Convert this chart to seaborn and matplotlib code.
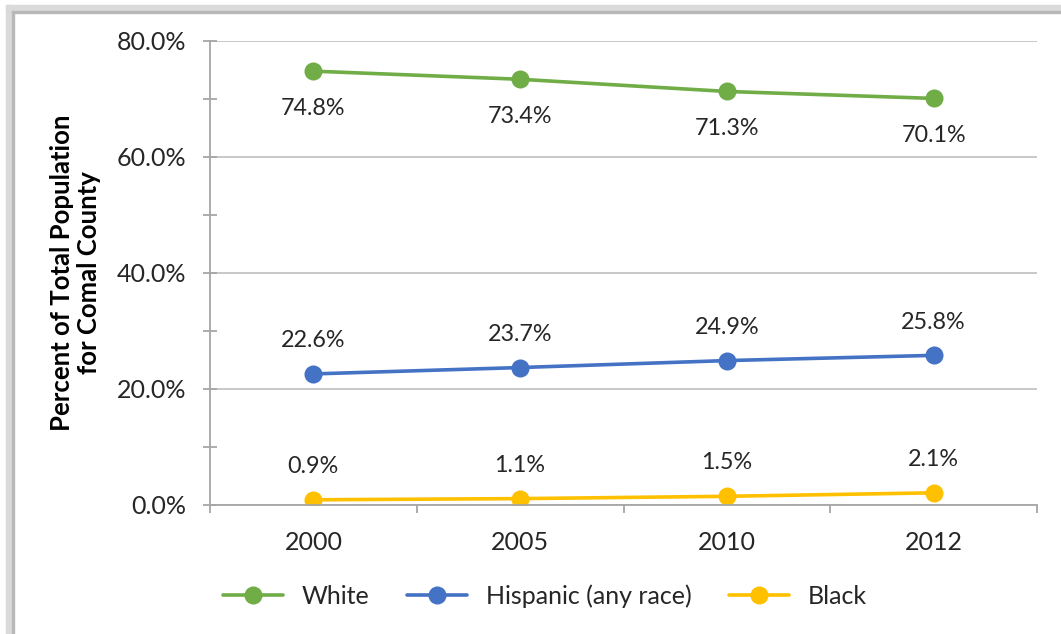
import numpy as np
import pandas as pd
import matplotlib
matplotlib.use("Agg")
import matplotlib.pyplot as plt
from matplotlib.patches import Rectangle
from matplotlib.ticker import MultipleLocator, FuncFormatter
import seaborn as sns

# Data
years = ["2000", "2005", "2010", "2012"]
white = [74.8, 73.4, 71.3, 70.1]
hispanic = [22.6, 23.7, 24.9, 25.8]
black = [0.9, 1.1, 1.5, 2.1]
series_names = ["White", "Hispanic (any race)", "Black"]
series_colors = ["#70AD47", "#4472C4", "#FFC000"]

sns.set_theme(style="white")
plt.rcParams["font.family"] = ["Lato", "DejaVu Sans"]

df = pd.DataFrame({
    "year": years * 3,
    "value": white + hispanic + black,
    "series": [series_names[0]] * 4 + [series_names[1]] * 4 + [series_names[2]] * 4,
})

txt_col = "#262626"
fs_lab = 16.8
fs_tick = 18

fig = plt.figure(figsize=(10.61, 6.34), dpi=100)
ax = fig.add_axes([210 / 1061, 1 - 505 / 634, 827 / 1061, 464 / 634])

sns.lineplot(data=df, x="year", y="value", hue="series", palette=series_colors,
             marker="o", markersize=13, markeredgewidth=0, linewidth=2.6,
             sort=False, legend=True, ax=ax)

# data labels: White below, others above
offsets = {"White": -27, "Hispanic (any race)": 24, "Black": 24}
for name, vals in zip(series_names, [white, hispanic, black]):
    for i, v in enumerate(vals):
        ax.annotate(f"{v:.1f}%", (i, v), xytext=(0, offsets[name]),
                    textcoords="offset points", ha="center", va="center",
                    fontsize=fs_lab, color=txt_col)

ax.set_xlim(-0.5, 3.5)
ax.set_ylim(0, 80)
ax.yaxis.set_major_locator(MultipleLocator(20))
ax.yaxis.set_minor_locator(MultipleLocator(10))
ax.yaxis.set_major_formatter(FuncFormatter(lambda v, p: f"{v:.1f}%"))
ax.set_xticks([0, 1, 2, 3])
ax.set_xticklabels(years)
ax.set_xticks([-0.5, 0.5, 1.5, 2.5, 3.5], minor=True)
ax.grid(axis="y", which="major", color="#BFBFBF", linewidth=1.2)
ax.set_axisbelow(True)

axis_col = "#A6A6A6"
for s in ["top", "right"]:
    ax.spines[s].set_visible(False)
for s in ["left", "bottom"]:
    ax.spines[s].set_color(axis_col)
    ax.spines[s].set_linewidth(1.3)

ax.tick_params(axis="y", which="both", left=True, direction="inout", length=10,
               width=1.3, color=axis_col, labelsize=fs_tick, labelcolor=txt_col, pad=12)
ax.tick_params(axis="x", which="major", bottom=True, length=0, labelsize=fs_tick,
               labelcolor=txt_col, pad=19)
ax.tick_params(axis="x", which="minor", bottom=True, direction="out", length=6,
               width=1.3, color=axis_col)

ax.set_xlabel("")
ax.set_ylabel("Percent of Total Population\nfor Comal County", fontsize=18.5,
              fontweight="bold", color="#000000", labelpad=11, linespacing=1.15)

handles, labels = ax.get_legend_handles_labels()
ax.get_legend().remove()
fig.legend(handles, labels, loc="center", bbox_to_anchor=(545 / 1061, 1 - 596 / 634),
           ncol=3, frameon=False, fontsize=fs_tick, handlelength=2.4, columnspacing=1.5,
           handletextpad=0.75, labelcolor=txt_col)

# screenshot-style frame on the top and left edges
fig.patches.append(Rectangle((6 / 1061, 0), 6 / 1061, 1 - 5 / 634,
                             transform=fig.transFigure, color="#DADADA", zorder=0))
fig.patches.append(Rectangle((6 / 1061, 1 - 11 / 634), 1, 6 / 634,
                             transform=fig.transFigure, color="#DADADA", zorder=0))
fig.patches.append(Rectangle((12 / 1061, 0), 2 / 1061, 1 - 11 / 634,
                             transform=fig.transFigure, color="#B8B8B8", zorder=1))
fig.patches.append(Rectangle((12 / 1061, 1 - 13 / 634), 1, 2 / 634,
                             transform=fig.transFigure, color="#B8B8B8", zorder=1))

fig.savefig("out.png", dpi=100)
